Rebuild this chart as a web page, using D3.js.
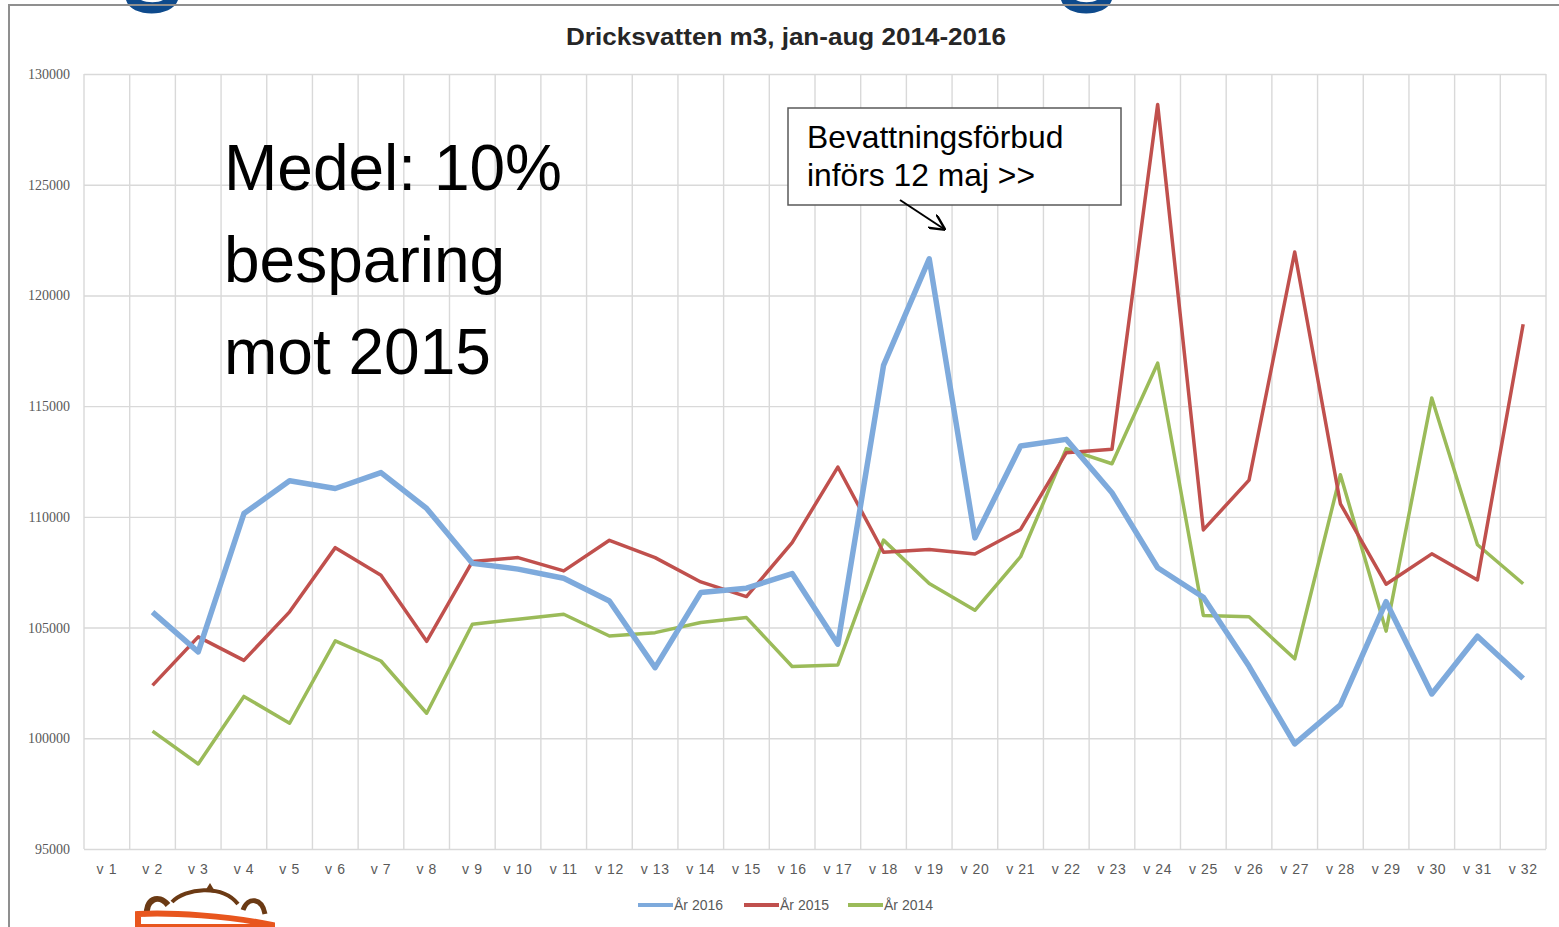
<!DOCTYPE html>
<html>
<head>
<meta charset="utf-8">
<script src="https://cdn.jsdelivr.net/npm/d3@7"></script>
<style>
  body { margin: 0; background: #fff; }
  svg { display: block; }
</style>
</head>
<body>
<div id="chart"></div>
<script>
// weeks v1..v32, values in m3 (v1 has no data)
var weeks = ["v 1","v 2","v 3","v 4","v 5","v 6","v 7","v 8","v 9","v 10","v 11","v 12","v 13","v 14","v 15","v 16",
             "v 17","v 18","v 19","v 20","v 21","v 22","v 23","v 24","v 25","v 26","v 27","v 28","v 29","v 30","v 31","v 32"];

var ar2016 = [null, 105700, 103900, 110150, 111630, 111280, 112000, 110380, 107900, 107640, 107230, 106200, 103190, 106580, 106780, 107440,
              104250, 116840, 121650, 109050, 113200, 113500, 111090, 107700, 106370, 103250, 99750, 101510, 106170, 102000, 104610, 102700];
var ar2015 = [null, 102390, 104580, 103520, 105710, 108610, 107360, 104380, 107980, 108160, 107560, 108940, 108160, 107060, 106400, 108840,
              112250, 108400, 108530, 108320, 109430, 112900, 113050, 128620, 109410, 111660, 121960, 110590, 106960, 108330, 107150, 118700];
var ar2014 = [null, 100320, 98840, 101890, 100680, 104400, 103490, 101130, 105150, 105380, 105600, 104620, 104770, 105230, 105450, 103240,
              103310, 108950, 106990, 105780, 108200, 113080, 112400, 116940, 105550, 105490, 103590, 111900, 104840, 115370, 108740, 106980];

var seriesNames = ["År 2016", "År 2015", "År 2014"];
var seriesColors = ["#7eaadc", "#c0504d", "#9bbb59"];
var yTicks = [95000, 100000, 105000, 110000, 115000, 120000, 125000, 130000];

var svgWidth = 1559;
var svgHeight = 927;
var margin = { top: 74, right: 13, bottom: 78, left: 84 };
var width = svgWidth - margin.left - margin.right;
var height = svgHeight - margin.top - margin.bottom;

var svg = d3.select("#chart")
  .append("svg")
  .attr("width", svgWidth)
  .attr("height", svgHeight);

// partial blue letters peeking in from the slide title above
svg.append("path")
  .attr("d", "M126,0 C131,18 172,18 178,0 L163,0 C158,3 147,3 141,0 Z")
  .attr("fill", "#0e4a8c");
svg.append("path")
  .attr("d", "M1061,0 C1066,18 1106,18 1112,0 L1097,0 C1092,3 1081,3 1076,0 Z")
  .attr("fill", "#0e4a8c");

// outer frame
svg.append("path")
  .attr("d", "M9,927 L9,5 L1559,5")
  .attr("fill", "none")
  .attr("stroke", "#8f8f8f")
  .attr("stroke-width", 2);

var chartGroup = svg.append("g")
  .attr("transform", `translate(${margin.left}, ${margin.top})`);

var xBandScale = d3.scaleBand()
  .domain(weeks)
  .range([0, width])
  .padding(0);

var yLinearScale = d3.scaleLinear()
  .domain([95000, 130000])
  .range([height, 0]);

// horizontal gridlines + y labels
var leftAxis = d3.axisLeft(yLinearScale)
  .tickValues(yTicks)
  .tickSize(-width)
  .tickPadding(14)
  .tickFormat(d3.format("d"));

var yAxisG = chartGroup.append("g").call(leftAxis);
yAxisG.select(".domain").remove();
yAxisG.selectAll("line").attr("stroke", "#d9d9d9").attr("stroke-width", 1.4);
yAxisG.selectAll("text")
  .attr("fill", "#595959")
  .style("font-family", "'Liberation Serif', serif")
  .style("font-size", "14px");

// vertical gridlines at band edges
var edges = weeks.map(w => xBandScale(w)).concat([xBandScale(weeks[weeks.length - 1]) + xBandScale.bandwidth()]);
chartGroup.append("g")
  .selectAll("line")
  .data(edges)
  .enter()
  .append("line")
  .attr("x1", d => d)
  .attr("x2", d => d)
  .attr("y1", 0)
  .attr("y2", height)
  .attr("stroke", "#d9d9d9")
  .attr("stroke-width", 1.4);

// x labels
var bottomAxis = d3.axisBottom(xBandScale).tickSize(0).tickPadding(15);
var xAxisG = chartGroup.append("g")
  .attr("transform", `translate(0, ${height})`)
  .call(bottomAxis);
xAxisG.select(".domain").remove();
xAxisG.selectAll("text")
  .attr("fill", "#595959")
  .style("font-family", "'Liberation Sans', sans-serif")
  .style("font-size", "14px")
  .style("letter-spacing", "0.6px");

// lines
var seriesData = [ar2016, ar2015, ar2014];
var seriesWidths = [5.5, 3.5, 3.5];
var line = d3.line()
  .defined(d => d.v !== null)
  .x(d => xBandScale(d.w) + xBandScale.bandwidth() / 2)
  .y(d => yLinearScale(d.v));

// draw 2014 first so 2016 stays on top like the original
[2, 1, 0].forEach(function(i) {
  var pts = weeks.map((w, j) => ({ w: w, v: seriesData[i][j] }));
  chartGroup.append("path")
    .datum(pts)
    .attr("fill", "none")
    .attr("stroke", seriesColors[i])
    .attr("stroke-width", seriesWidths[i])
    .attr("stroke-linejoin", "round")
    .attr("d", line);
});

// title
svg.append("text")
  .attr("x", 786)
  .attr("y", 45)
  .attr("text-anchor", "middle")
  .attr("fill", "#262626")
  .attr("textLength", 440)
  .attr("lengthAdjust", "spacingAndGlyphs")
  .style("font-family", "'Liberation Sans', sans-serif")
  .style("font-weight", "bold")
  .style("font-size", "24px")
  .text("Dricksvatten m3, jan-aug 2014-2016");

// legend
var legendX = [638, 744, 848];
var legend = svg.append("g");
seriesNames.forEach(function(name, i) {
  legend.append("line")
    .attr("x1", legendX[i]).attr("x2", legendX[i] + 35)
    .attr("y1", 905).attr("y2", 905)
    .attr("stroke", seriesColors[i])
    .attr("stroke-width", 4);
  legend.append("text")
    .attr("x", legendX[i] + 36)
    .attr("y", 910)
    .attr("fill", "#595959")
    .style("font-family", "'Liberation Sans', sans-serif")
    .style("font-size", "14px")
    .text(name);
});

// big note on the left
var noteLines = ["Medel: 10%", "besparing", "mot 2015"];
svg.append("g")
  .selectAll("text")
  .data(noteLines)
  .enter()
  .append("text")
  .attr("x", 224)
  .attr("y", (d, i) => 190 + i * 92)
  .attr("fill", "#000")
  .style("font-family", "'Liberation Sans', Arial, sans-serif")
  .style("font-size", "64px")
  .text(d => d);

// annotation box
svg.append("rect")
  .attr("x", 788).attr("y", 108)
  .attr("width", 333).attr("height", 97)
  .attr("fill", "#fff")
  .attr("stroke", "#595959")
  .attr("stroke-width", 1.5);
var annot = ["Bevattningsförbud", "införs 12 maj >>"];
svg.append("g")
  .selectAll("text")
  .data(annot)
  .enter()
  .append("text")
  .attr("x", 807)
  .attr("y", (d, i) => 148 + i * 38)
  .attr("fill", "#000")
  .style("font-family", "'Liberation Sans', Arial, sans-serif")
  .style("font-size", "31.8px")
  .text(d => d);

svg.append("defs").append("marker")
  .attr("id", "arrow")
  .attr("viewBox", "0 0 10 10")
  .attr("refX", 9).attr("refY", 5)
  .attr("markerWidth", 8).attr("markerHeight", 8)
  .attr("orient", "auto")
  .append("path")
  .attr("d", "M0,0 L10,5 L0,10")
  .attr("fill", "none")
  .attr("stroke", "#000")
  .attr("stroke-width", 1.5);
svg.append("line")
  .attr("x1", 900).attr("y1", 200)
  .attr("x2", 944).attr("y2", 229)
  .attr("stroke", "#000")
  .attr("stroke-width", 2)
  .attr("marker-end", "url(#arrow)");

// little mascot peeking in at the bottom left
var logo = svg.append("g");
logo.append("path")
  .attr("d", "M147,916 C145,900 158,893 168,905")
  .attr("fill", "none").attr("stroke", "#6b3a14").attr("stroke-width", 6);
logo.append("path")
  .attr("d", "M172,902 C185,888 222,884 238,904")
  .attr("fill", "none").attr("stroke", "#6b3a14").attr("stroke-width", 4);
logo.append("path")
  .attr("d", "M205,891 L210,883 L216,893")
  .attr("fill", "#6b3a14");
logo.append("path")
  .attr("d", "M243,910 C248,896 262,898 265,914")
  .attr("fill", "none").attr("stroke", "#6b3a14").attr("stroke-width", 5);
logo.append("path")
  .attr("d", "M138,914 C170,912 230,916 272,925 L272,927 L138,927 Z")
  .attr("fill", "none").attr("stroke", "#e8561e").attr("stroke-width", 6);
</script>
</body>
</html>
